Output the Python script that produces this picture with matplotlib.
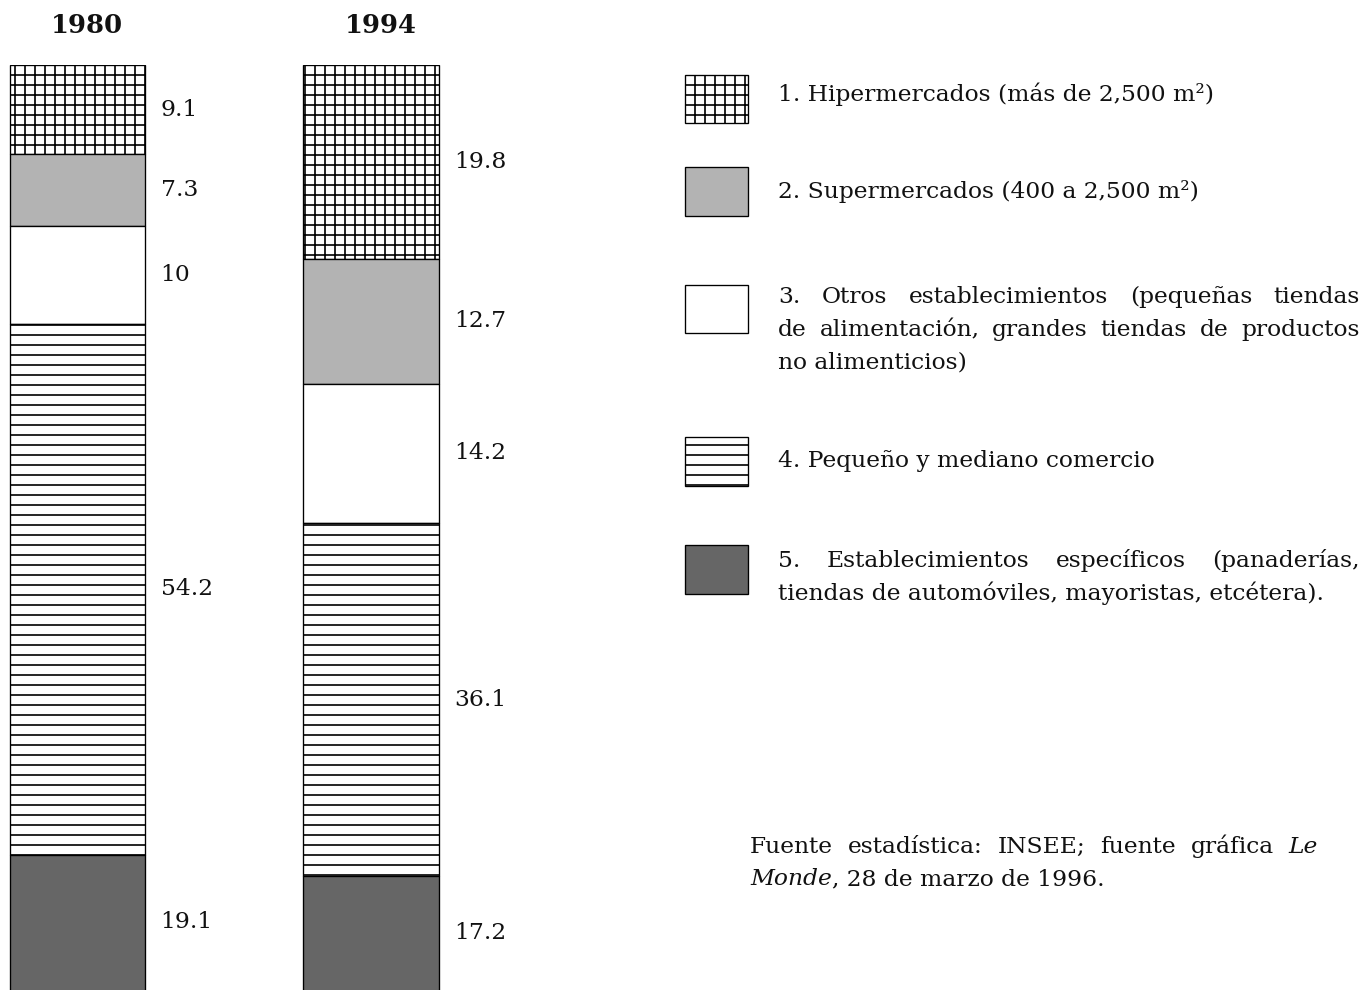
import matplotlib
matplotlib.use("Agg")
import matplotlib.pyplot as plt
from matplotlib.patches import Rectangle

# ---------------- data ----------------
years = ["1980", "1994"]
categories = [
    "1. Hipermercados (más de 2,500 m²)",
    "2. Supermercados (400 a 2,500 m²)",
    "3. Otros establecimientos (pequeñas tiendas de alimentación, grandes tiendas de productos no alimenticios)",
    "4. Pequeño y mediano comercio",
    "5. Establecimientos específicos (panaderías, tiendas de automóviles, mayoristas, etcétera).",
]
values_1980 = [9.1, 7.3, 10, 54.2, 19.1]
values_1994 = [19.8, 12.7, 14.2, 36.1, 17.2]
source_note = "Fuente estadística: INSEE; fuente gráfica Le Monde, 28 de marzo de 1996."

# ---------------- style ----------------
DPI = 120
W, H = 1366, 990
plt.rcParams["font.family"] = ["DejaVu Serif"]
plt.rcParams["hatch.linewidth"] = 1.0
FS = 14

faces = ["white", "#b3b3b3", "white", "white", "#666666"]
hatches = ["++", None, None, "--", None]

fig = plt.figure(figsize=(W / DPI, H / DPI), dpi=DPI)
fig.patch.set_facecolor("white")

# ---------------- bars ----------------
TOP_PX = 65
PX_PER_UNIT = 9.8
bar_ax_w = 600
ax = fig.add_axes([0, 0, bar_ax_w / W, (H - TOP_PX) / H])
ymax = (H - TOP_PX) / PX_PER_UNIT
ax.set_ylim(ymax, 0)
ax.set_xlim(-77.5 / 293.5, (bar_ax_w - 77.5) / 293.5)
ax.axis("off")

bar_w = 0.46
xs = [0, 1]
series = list(zip(values_1980, values_1994))
cum = [0.0, 0.0]
for k, vals in enumerate(series):
    ax.bar(xs, vals, bottom=cum, width=bar_w, color=faces[k],
           hatch=hatches[k], edgecolor="black", linewidth=0.8, align="center")
    for i, v in enumerate(vals):
        lo = cum[i]
        hi = min(cum[i] + v, ymax)
        ax.text(xs[i] + bar_w / 2 + 0.053, (lo + hi) / 2, f"{v:g}",
                va="center", ha="left", fontsize=FS, color="#111111")
    cum = [c + v for c, v in zip(cum, vals)]

# ---------------- overlay for titles / legend / notes ----------------
ov = fig.add_axes([0, 0, 1, 1])
ov.set_xlim(0, W)
ov.set_ylim(H, 0)
ov.axis("off")
ov.patch.set_alpha(0)

for i, yr in enumerate(years):
    cx = 87 + i * 294
    ov.text(cx, 33, yr, ha="center", va="baseline", fontsize=15.5,
            fontweight="bold", color="#111111")

renderer = fig.canvas.get_renderer()


def justify_line(x0, y, words, width, fs=FS):
    """words: list of words, each a list of (text, style) pieces."""
    created = []
    widths = []
    for w in words:
        pieces = []
        wsum = 0
        for txt, style in w:
            t = ov.text(0, y, txt, fontsize=fs, style=style, va="baseline",
                        ha="left", color="#111111")
            pw = t.get_window_extent(renderer).width
            pieces.append((t, pw))
            wsum += pw
        created.append(pieces)
        widths.append(wsum)
    gap = (width - sum(widths)) / (len(words) - 1)
    x = x0
    for pieces, wsum in zip(created, widths):
        px = x
        for t, pw in pieces:
            t.set_x(px)
            px += pw
        x += wsum + gap


def plain(x0, y, s, fs=FS):
    ov.text(x0, y, s, fontsize=fs, va="baseline", ha="left", color="#111111")


def W_(s):
    return [[(w, "normal")] for w in s.split()]


LX = 778
RX = 1360
boxes = [(75, 48), (167, 49), (285, 48), (437, 49), (545, 49)]
for k, (by, bh) in enumerate(boxes):
    ov.add_patch(Rectangle((685, by), 63, bh, facecolor=faces[k],
                           hatch=hatches[k], edgecolor="black", linewidth=0.8))

plain(LX, 101, categories[0])
plain(LX, 198, categories[1])
justify_line(LX, 303, W_("3. Otros establecimientos (pequeñas tiendas"), RX - LX)
justify_line(LX, 336, W_("de alimentación, grandes tiendas de productos"), RX - LX)
plain(LX, 368, "no alimenticios)")
plain(LX, 467, categories[3])
justify_line(LX, 567, W_("5. Establecimientos específicos (panaderías,"), RX - LX)
plain(LX, 600, "tiendas de automóviles, mayoristas, etcétera).")

# source note
SX = 750
line1 = W_("Fuente estadística: INSEE; fuente gráfica") + [[("Le", "italic")]]
justify_line(SX, 853, line1, 1318 - SX)
t1 = ov.text(SX, 885, "Monde", style="italic", fontsize=FS, va="baseline",
             ha="left", color="#111111")
w1 = t1.get_window_extent(renderer).width
plain(SX + w1, 885, ", 28 de marzo de 1996.")

fig.savefig("out.png", dpi=DPI, facecolor="white")
